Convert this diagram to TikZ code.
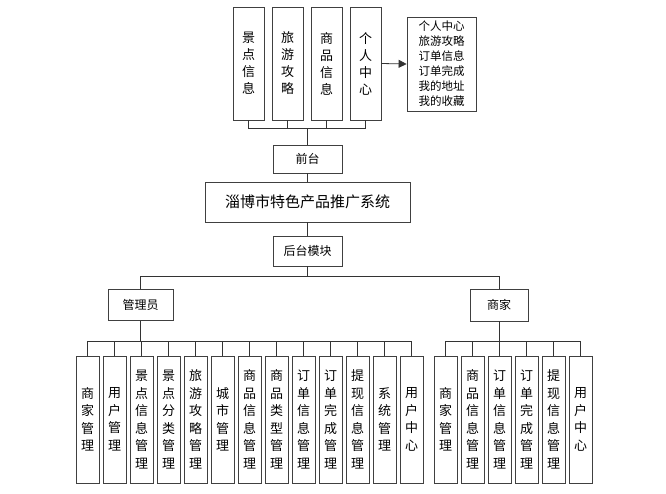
\documentclass[tikz,border=0pt]{standalone}
\usepackage{fontspec}
\setmainfont{Noto Sans CJK SC}
\usetikzlibrary{arrows.meta}
\begin{document}
\begin{tikzpicture}[x=1pt,y=-1pt,
  bx/.style={draw=black!75,line width=0.8pt,inner sep=0pt},
  vt/.style={font=\fontsize{13}{17}\selectfont,align=center},
  ln/.style={draw=black!80,line width=0.8pt}]
\useasboundingbox (0,0) rectangle (666,493);
% top boxes
\foreach \n/\x/\t in {t1/248.5/景\\点\\信\\息, t2/287.5/旅\\游\\攻\\略, t3/326.5/商\\品\\信\\息, t4/365.5/个\\人\\中\\心}{
  \node[bx,minimum width=31pt,minimum height=113pt] (\n) at (\x,63.5) {};
  \node[vt] at (\x,63.5) {\t};
}
\node[bx,minimum width=69pt,minimum height=94pt] (side) at (441.5,64) {};
\node[font=\fontsize{11.5}{15}\selectfont,align=left] at (441.5,64) {个人中心\\旅游攻略\\订单信息\\订单完成\\我的地址\\我的收藏};
\draw[ln,-{Triangle[length=8pt,width=8pt]}] (t4.east) -- (side.west);
\node[bx,minimum width=69pt,minimum height=28pt,font=\fontsize{12}{14}\selectfont] (qt) at (307.5,159) {前台};
\foreach \n in {t1,t2,t3,t4}{\draw[ln] (\n.south) |- (307.5,128);}
\draw[ln] (307.5,128) -- (qt.north);
\node[bx,minimum width=205pt,minimum height=40pt,font=\fontsize{15}{18}\selectfont] (main) at (307.5,202) {淄博市特色产品推广系统};
\draw[ln] (qt.south) -- (main.north);
\node[bx,minimum width=69pt,minimum height=30pt,font=\fontsize{12}{14}\selectfont] (ht) at (307.5,251) {后台模块};
\draw[ln] (main.south) -- (ht.north);
\node[bx,minimum width=65pt,minimum height=31pt,font=\fontsize{12}{14}\selectfont] (gly) at (140.5,305) {管理员};
\node[bx,minimum width=58pt,minimum height=32pt,font=\fontsize{12}{14}\selectfont] (sj) at (499,305) {商家};
\draw[ln] (ht.south) -- (307.5,276);
\draw[ln] (gly.north) |- (sj.north |- 0,276) -- (sj.north);
% left bottom
\foreach [count=\i] \t in {商\\家\\管\\理, 用\\户\\管\\理, 景\\点\\信\\息\\管\\理, 景\\点\\分\\类\\管\\理, 旅\\游\\攻\\略\\管\\理, 城\\市\\管\\理, 商\\品\\信\\息\\管\\理, 商\\品\\类\\型\\管\\理, 订\\单\\信\\息\\管\\理, 订\\单\\完\\成\\管\\理, 提\\现\\信\\息\\管\\理, 系\\统\\管\\理, 用\\户\\中\\心}{
  \pgfmathsetmacro\xx{87.5+27*(\i-1)}
  \node[bx,minimum width=23pt,minimum height=127pt] (l\i) at (\xx,419.5) {};
  \node[vt,font=\fontsize{13}{17.5}\selectfont] at (\xx,419.5) {\t};
  \draw[ln] (l\i.north) -- (\xx,341);
}
\draw[ln] (l1.north |- 0,341) -- (l13.north |- 0,341);
\draw[ln] (gly.south) -- (gly.south |- 0,341);
\foreach [count=\i] \t in {商\\家\\管\\理, 商\\品\\信\\息\\管\\理, 订\\单\\信\\息\\管\\理, 订\\单\\完\\成\\管\\理, 提\\现\\信\\息\\管\\理, 用\\户\\中\\心}{
  \pgfmathsetmacro\xx{445.5+27*(\i-1)}
  \node[bx,minimum width=23pt,minimum height=127pt] (r\i) at (\xx,419.5) {};
  \node[vt,font=\fontsize{13}{17.5}\selectfont] at (\xx,419.5) {\t};
  \draw[ln] (r\i.north) -- (\xx,341);
}
\draw[ln] (r1.north |- 0,341) -- (r6.north |- 0,341);
\draw[ln] (sj.south) -- (sj.south |- 0,341);
\end{tikzpicture}
\end{document}
